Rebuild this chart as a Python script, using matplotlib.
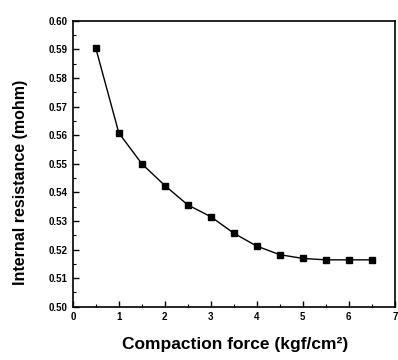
import matplotlib
matplotlib.use('Agg')
import matplotlib.pyplot as plt
from matplotlib.ticker import MultipleLocator

force = [0.5, 1.0, 1.5, 2.0, 2.5, 3.0, 3.5, 4.0, 4.5, 5.0, 5.5, 6.0, 6.5]
resistance = [0.5904, 0.5608, 0.5500, 0.5424, 0.5356, 0.5315, 0.5257, 0.5212,
              0.5182, 0.5169, 0.5164, 0.5164, 0.5164]

plt.rcParams['font.family'] = ['Liberation Sans Narrow', 'Liberation Sans', 'DejaVu Sans']

fig = plt.figure(figsize=(3.98, 3.6), dpi=100)
ax = fig.add_axes([0.183, 0.148, 0.809, 0.794])

ax.plot(force, resistance, '-s', color='black', lw=1.0, ms=4.5)

ax.set_xlim(0, 7)
ax.set_ylim(0.50, 0.60)
ax.xaxis.set_major_locator(MultipleLocator(1))
ax.xaxis.set_minor_locator(MultipleLocator(0.5))
ax.yaxis.set_major_locator(MultipleLocator(0.01))
ax.yaxis.set_minor_locator(MultipleLocator(0.005))
ax.yaxis.set_major_formatter(plt.FormatStrFormatter('%.2f'))
ax.tick_params(which='both', direction='in', labelsize=7)
ax.tick_params(which='major', length=4, width=1)
ax.tick_params(which='minor', length=2, width=0.8)
for s in ax.spines.values():
    s.set_linewidth(1.2)
for lbl in ax.get_xticklabels() + ax.get_yticklabels():
    lbl.set_fontweight('bold')

fig.text(0.59, 0.042, 'Compaction force (kgf/cm\u00b2)', fontsize=12.5, fontweight='bold',
         ha='center', va='center')
fig.text(0.052, 0.494, 'Internal resistance (mohm)', fontsize=11.5, fontweight='bold',
         ha='center', va='center', rotation=90)

plt.savefig('out.png', dpi=100)
